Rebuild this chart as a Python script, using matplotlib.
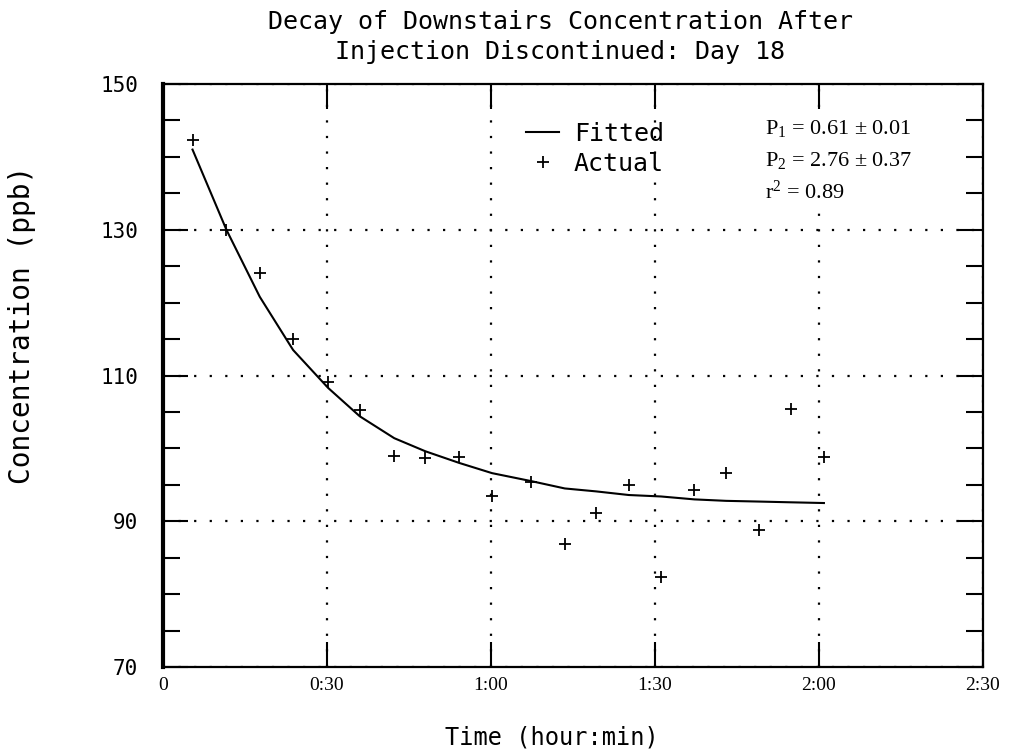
import numpy as np
import matplotlib
matplotlib.use('Agg')
import matplotlib.pyplot as plt
from matplotlib.lines import Line2D
from matplotlib.ticker import MultipleLocator

# data (time in minutes, concentration in ppb)
time_min = [5.4, 11.6, 17.7, 23.8, 30.2, 36.0, 42.3, 48.0, 54.2, 60.2,
            67.4, 73.5, 79.2, 85.2, 91.1, 97.2, 103.0, 109.1, 114.8, 120.9]
actual = [142.3, 130.0, 124.1, 115.0, 109.1, 105.2, 99.0, 98.7, 98.8, 93.4,
          95.4, 86.9, 91.1, 95.0, 82.3, 94.3, 96.6, 88.8, 105.4, 98.8]
fitted = [141.0, 130.0, 120.8, 113.5, 108.3, 104.4, 101.4, 99.6, 98.0, 96.6,
          95.5, 94.5, 94.1, 93.6, 93.4, 93.0, 92.8, 92.7, 92.6, 92.5]

x_ticks = [0, 30, 60, 90, 120, 150]
x_labels = ['0', '0:30', '1:00', '1:30', '2:00', '2:30']
y_ticks = [70, 90, 110, 130, 150]

title_text = 'Decay of Downstairs Concentration After\nInjection Discontinued: Day 18'
stats = [r'$\mathregular{P_1}$ = 0.61 $\pm$ 0.01',
         r'$\mathregular{P_2}$ = 2.76 $\pm$ 0.37',
         r'$\mathregular{r^2}$ = 0.89']

plotter = 'DejaVu Sans Mono'
serif = 'Liberation Serif'
plt.rcParams['mathtext.fontset'] = 'custom'
plt.rcParams['mathtext.rm'] = serif

fig = plt.figure(figsize=(10.12, 7.52), dpi=100)
ax = fig.add_axes([163/1012, 1-667/752, 820/1012, 583/752])

ax.plot(time_min, fitted, color='black', lw=1.5, label='Fitted')
ax.plot(time_min, actual, ls='none', marker='+', ms=9, mew=1.3,
        color='black', label='Actual')

ax.set_xlim(0, 150)
ax.set_ylim(70, 150)
ax.set_xticks(x_ticks)
ax.set_xticklabels(x_labels, fontfamily=serif, fontsize=14)
ax.set_yticks(y_ticks)
ax.set_yticklabels([str(v) for v in y_ticks], fontfamily=plotter, fontsize=15)
ax.yaxis.set_minor_locator(MultipleLocator(5))

ax.tick_params(axis='x', direction='in', top=True, length=18, width=1.5, pad=7)
ax.tick_params(axis='y', which='major', direction='in', right=True,
               length=18, width=1.5, pad=18)
ax.tick_params(axis='y', which='minor', direction='in', right=True,
               length=12, width=1.5)

ax.grid(True, which='major', color='black', lw=1.6, linestyle=(0, (1, 6)))

for side in ['top', 'right', 'bottom']:
    ax.spines[side].set_linewidth(1.6)
ax.spines['left'].set_linewidth(3)

handles = [Line2D([], [], color='black', lw=1.5),
           Line2D([], [], ls='none', marker='+', ms=9, mew=1.3, color='black')]
ax.legend(handles, ['Fitted', 'Actual'], loc='upper left',
          bbox_to_anchor=(0.428, 0.957), frameon=False,
          prop={'family': plotter, 'size': 18}, handlelength=1.3,
          handletextpad=0.6, labelspacing=0.25, borderpad=0)

# the fit statistics sit on a white patch (hides the 2:00 grid dots)
for i, s in enumerate(stats):
    ax.text((765 - 163)/820, 1 - (128 - 84 + i*32)/583, s,
            transform=ax.transAxes, fontfamily=serif, fontsize=16,
            va='center', ha='left',
            bbox=dict(facecolor='white', edgecolor='none', pad=4))

fig.text(560/1012, 1-37/752, title_text, ha='center', va='center',
         fontfamily=plotter, fontsize=18, linespacing=1.35)
fig.text(22/1012, 1-325/752, 'Concentration (ppb)', rotation=90,
         ha='center', va='center', fontfamily=plotter, fontsize=20)
fig.text(552/1012, 1-737/752, 'Time (hour:min)', ha='center', va='center',
         fontfamily=plotter, fontsize=17)

fig.savefig('out.png', dpi=100)
